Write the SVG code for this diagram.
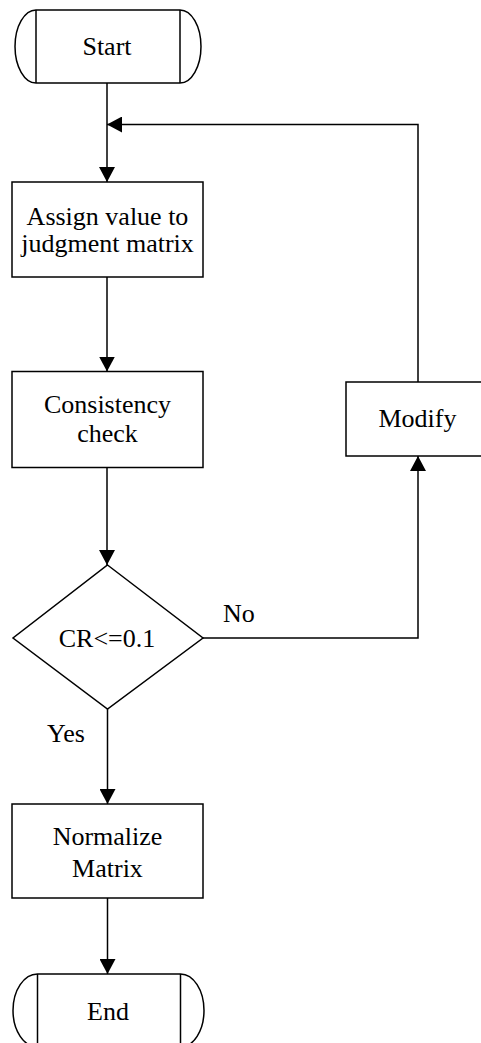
<svg xmlns="http://www.w3.org/2000/svg" width="481" height="1043" viewBox="0 0 481 1043">
  <style>
    .shape { fill: #fff; stroke: #000; stroke-width: 1.5; }
    .edge { fill: none; stroke: #000; stroke-width: 1.5; }
    .lbl { font-family: "Liberation Serif", "Times New Roman", serif; font-size: 26px; fill: #000; text-anchor: middle; }
    .tag { font-family: "Liberation Serif", "Times New Roman", serif; font-size: 26px; fill: #000; }
  </style>
  <defs>
    <marker id="arrow" viewBox="0 0 15 16" refX="15" refY="8" markerWidth="15" markerHeight="16" markerUnits="userSpaceOnUse" orient="auto">
      <path d="M0,0 L15,8 L0,16 Z" fill="#000"/>
    </marker>
  </defs>
  <rect width="481" height="1043" fill="#fff"/>

  <g id="connectors">
    <path class="edge" d="M107,83 V182" marker-end="url(#arrow)"/>
    <path class="edge" d="M107,277 V371.5" marker-end="url(#arrow)"/>
    <path class="edge" d="M107,467.5 V565" marker-end="url(#arrow)"/>
    <path class="edge" d="M107.5,709 V804" marker-end="url(#arrow)"/>
    <path class="edge" d="M107.5,898 V974" marker-end="url(#arrow)"/>
    <path class="edge" d="M203,638 H418 V456" marker-end="url(#arrow)"/>
    <path class="edge" d="M418,382 V124.5 H107" marker-end="url(#arrow)"/>
  </g>

  <g id="start">
    <path class="shape" d="M36,10 H180 A21,36.5 0 0 1 180,83 H36 A21,36.5 0 0 1 36,10 Z"/>
    <line class="edge" x1="36" y1="10" x2="36" y2="83"/>
    <line class="edge" x1="180" y1="10" x2="180" y2="83"/>
    <text class="lbl" x="107" y="55">Start</text>
  </g>

  <g id="assign">
    <rect class="shape" x="12" y="182" width="191" height="95"/>
    <text class="lbl" x="107.5" y="225">Assign value to</text>
    <text class="lbl" x="107.5" y="252">judgment matrix</text>
  </g>

  <g id="consistency">
    <rect class="shape" x="12" y="371.5" width="191" height="96"/>
    <text class="lbl" x="107.5" y="412.5">Consistency</text>
    <text class="lbl" x="107.5" y="441.5">check</text>
  </g>

  <g id="decision">
    <polygon class="shape" points="107.5,565 203,638 107.5,709 13,638"/>
    <text class="lbl" x="107" y="646.5">CR&lt;=0.1</text>
    <text class="tag" x="223" y="621.5">No</text>
    <text class="tag" x="47" y="741.5">Yes</text>
  </g>

  <g id="modify">
    <rect class="shape" x="346" y="382" width="142" height="74"/>
    <text class="lbl" x="417.5" y="426.5">Modify</text>
  </g>

  <g id="normalize">
    <rect class="shape" x="12" y="804" width="191" height="94"/>
    <text class="lbl" x="107.5" y="844.5">Normalize</text>
    <text class="lbl" x="107.5" y="876.5">Matrix</text>
  </g>

  <g id="end">
    <path class="shape" d="M37.5,974 H180.5 A23.5,36.5 0 0 1 180.5,1047 H37.5 A24.5,36.5 0 0 1 37.5,974 Z"/>
    <line class="edge" x1="37.5" y1="974" x2="37.5" y2="1047"/>
    <line class="edge" x1="180.5" y1="974" x2="180.5" y2="1047"/>
    <text class="lbl" x="108" y="1019.5">End</text>
  </g>
</svg>
